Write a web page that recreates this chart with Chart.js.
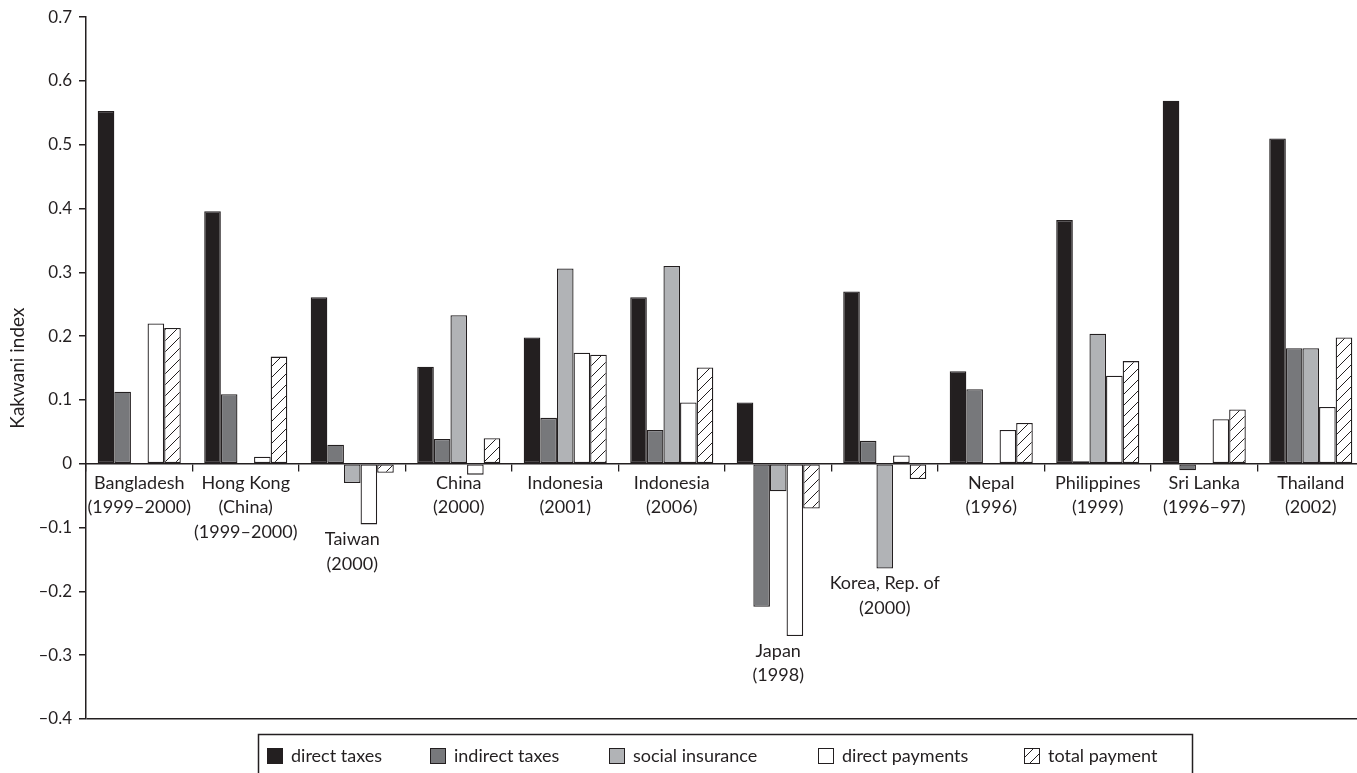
<!DOCTYPE html>
<html>
<head>
<meta charset="utf-8">
<script src="https://cdn.jsdelivr.net/npm/chart.js@4.4.1/dist/chart.umd.min.js"></script>
<style>
  html, body { margin: 0; padding: 0; background: #fff; overflow: hidden; }
  #wrap { width: 1364px; height: 773px; }
</style>
</head>
<body>
<div id="wrap"><canvas id="kakwani" width="1364" height="773"></canvas></div>
<script>
// Kakwani progressivity index by payment source, Asian economies
const categories = [
  ['Bangladesh', '(1999–2000)'],
  ['Hong Kong', '(China)', '(1999–2000)'],
  ['Taiwan', '(2000)'],
  ['China', '(2000)'],
  ['Indonesia', '(2001)'],
  ['Indonesia', '(2006)'],
  ['Japan', '(1998)'],
  ['Korea, Rep. of', '(2000)'],
  ['Nepal', '(1996)'],
  ['Philippines', '(1999)'],
  ['Sri Lanka', '(1996–97)'],
  ['Thailand', '(2002)'],
];

const directTaxes     = [0.553, 0.396, 0.261, 0.152, 0.198, 0.261, 0.096, 0.270, 0.145, 0.382, 0.569, 0.510];
const indirectTaxes   = [0.113, 0.109, 0.030, 0.039, 0.072, 0.053, -0.224, 0.036, 0.117, 0.004, -0.010, 0.181];
const socialInsurance = [null, null, -0.030, 0.233, 0.306, 0.310, -0.043, -0.164, null, 0.204, null, 0.181];
const directPayments  = [0.220, 0.011, -0.095, -0.017, 0.174, 0.096, -0.270, 0.013, 0.053, 0.138, 0.070, 0.089];
const totalPayment    = [0.213, 0.168, -0.014, 0.040, 0.171, 0.151, -0.070, -0.024, 0.064, 0.161, 0.085, 0.198];

const seriesNames = ['direct taxes', 'indirect taxes', 'social insurance', 'direct payments', 'total payment'];
const yRange = { min: -0.4, max: 0.7, step: 0.1 };

const INK = '#231f20';
const FONT = "Lato, 'Open Sans', sans-serif";

// diagonal "/" hatch on white
function hatch() {
  const s = 11;
  const c = document.createElement('canvas');
  c.width = s; c.height = s;
  const g = c.getContext('2d');
  g.fillStyle = '#fff';
  g.fillRect(0, 0, s, s);
  g.strokeStyle = INK;
  g.lineWidth = 1;
  g.beginPath();
  g.moveTo(-1, s + 1); g.lineTo(s + 1, -1);
  g.moveTo(-1, 1); g.lineTo(1, -1);
  g.moveTo(s - 1, s + 1); g.lineTo(s + 1, s - 1);
  g.stroke();
  return g.createPattern(c, 'repeat');
}

const fills = [INK, '#77787b', '#b1b3b6', '#ffffff', hatch()];
const values = [directTaxes, indirectTaxes, socialInsurance, directPayments, totalPayment];

// country names sit under the zero line, or under the bars when those run well below it
const categoryLabels = {
  id: 'categoryLabels',
  afterDatasetsDraw(chart) {
    const { ctx, scales: { x, y } } = chart;
    const zero = y.getPixelForValue(0);
    ctx.save();
    ctx.font = `18px ${FONT}`;
    ctx.fillStyle = INK;
    ctx.textAlign = 'center';
    ctx.textBaseline = 'middle';
    categories.forEach((lines, i) => {
      const low = Math.min(...chart.data.datasets.map(d => d.data[i] ?? 0));
      const top = low < -0.02 ? y.getPixelForValue(low) + 3 : zero + 7;
      lines.forEach((t, k) => ctx.fillText(t, x.getPixelForValue(i), top + 12 + k * 24.5));
    });
    ctx.restore();
  },
};

// boxed legend along the bottom edge
const boxLegend = {
  id: 'boxLegend',
  afterDraw(chart) {
    const { ctx } = chart;
    const swatchX = [267, 430, 609, 818, 1024];
    ctx.save();
    ctx.lineWidth = 1.5;
    ctx.strokeStyle = INK;
    ctx.strokeRect(258.5, 734.5, 934, 60);
    ctx.font = `18px ${FONT}`;
    ctx.textBaseline = 'middle';
    ctx.textAlign = 'left';
    chart.data.datasets.forEach((ds, i) => {
      const sx = swatchX[i];
      ctx.fillStyle = ds.backgroundColor;
      ctx.fillRect(sx, 748, 15, 15);
      ctx.lineWidth = 1;
      ctx.strokeStyle = ds.borderColor;
      ctx.strokeRect(sx + 0.5, 748.5, 15, 15);
      ctx.fillStyle = INK;
      ctx.fillText(ds.label, sx + 24, 756);
    });
    ctx.restore();
  },
};

const fmt = v => {
  if (Math.abs(v) < 1e-9) return '0';
  return (v < 0 ? '\u2013' : '') + Math.abs(v).toFixed(1);
};

new Chart(document.getElementById('kakwani'), {
  type: 'bar',
  data: {
    labels: categories,
    datasets: seriesNames.map((name, i) => ({
      label: name,
      data: values[i],
      backgroundColor: fills[i],
      borderColor: INK,
      borderWidth: 1.3,
      borderSkipped: false,
      categoryPercentage: 0.78,
      barPercentage: 1.0,
    })),
  },
  options: {
    responsive: false,
    animation: false,
    events: [],
    layout: { autoPadding: false, padding: { top: 13, right: 0, bottom: 54, left: 0 } },
    plugins: {
      legend: { display: false },
      tooltip: { enabled: false },
    },
    scales: {
      x: {
        position: { y: 0 },
        offset: true,
        ticks: { display: false },
        grid: {
          offset: true,
          drawOnChartArea: false,
          drawTicks: true,
          tickLength: 7,
          color: INK,
          lineWidth: 1.3,
        },
        border: { display: true, color: INK, width: 1.5 },
      },
      y: {
        min: yRange.min,
        max: yRange.max,
        afterFit(scale) { scale.width = 86; },
        ticks: {
          stepSize: yRange.step,
          padding: 7,
          color: INK,
          font: { family: FONT, size: 17 },
          callback: v => fmt(v),
        },
        grid: {
          drawTicks: true,
          tickLength: 7,
          lineWidth: 1.5,
          tickColor: INK,
          color: c => Math.abs(c.tick.value - yRange.min) < 1e-6 ? INK : 'rgba(0,0,0,0)',
        },
        border: { display: true, color: INK, width: 1.5 },
        title: {
          display: true,
          text: 'Kakwani index',
          color: INK,
          font: { family: FONT, size: 19 },
          padding: { top: 6, bottom: 0 },
        },
      },
    },
  },
  plugins: [categoryLabels, boxLegend],
});
</script>
</body>
</html>
